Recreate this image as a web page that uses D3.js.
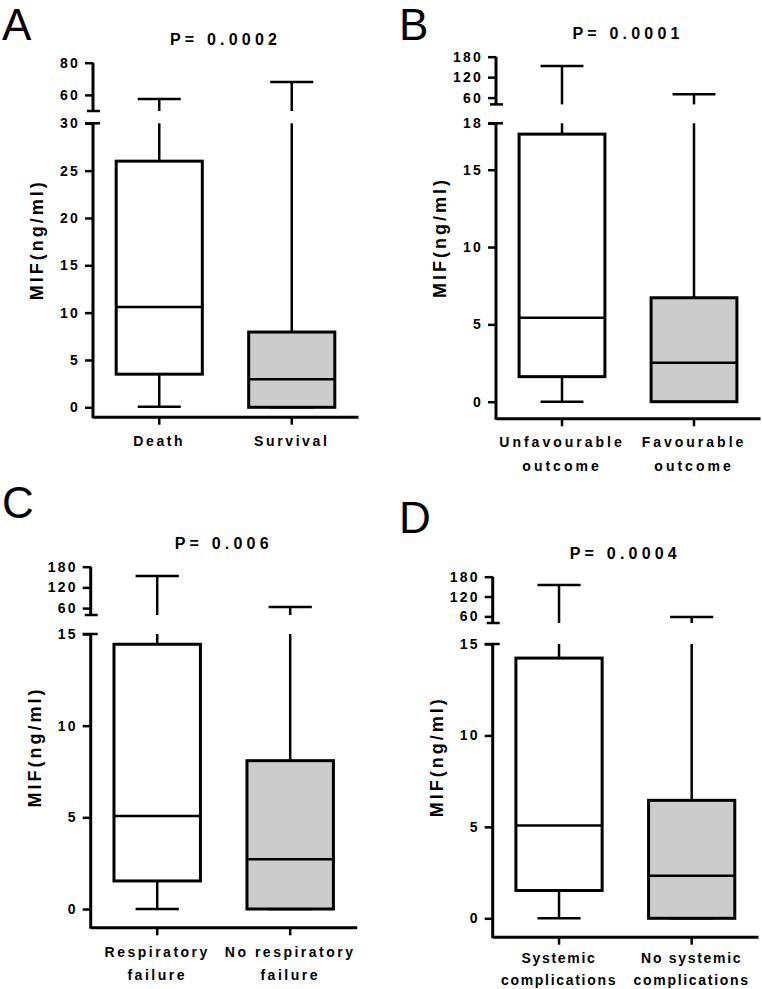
<!DOCTYPE html>
<html>
<head>
<meta charset="utf-8">
<script src="https://cdn.jsdelivr.net/npm/d3@7.9.0/dist/d3.min.js"></script>
<style>
  body { margin: 0; background: #fff; }
  svg { display: block; font-family: 'Liberation Sans', Arial, sans-serif; }
</style>
</head>
<body>
<svg id="chart"></svg>
<script>
////////////////////////////////////////////////////////////////////
// 1. Data
////////////////////////////////////////////////////////////////////
const panelLetters = ['A', 'B', 'C', 'D'];
const pLabels = ['P= 0.0002', 'P= 0.0001', 'P= 0.006', 'P= 0.0004'];
const yLabel = 'MIF(ng/ml)';

const groupsA = [['Death'], ['Survival']];
const groupsB = [['Unfavourable', 'outcome'], ['Favourable', 'outcome']];
const groupsC = [['Respiratory', 'failure'], ['No respiratory', 'failure']];
const groupsD = [['Systemic', 'complications'], ['No systemic', 'complications']];

// [min, q1, median, q3, max] for each group
const statsA = [[0.05, 3.5, 10.6, 26.0, 57.5], [0, 0, 2.95, 7.95, 68]];
const statsB = [[0, 1.62, 5.43, 17.3, 153], [0, 0, 2.52, 6.72, 70]];
const statsC = [[0, 1.53, 5.07, 14.44, 153], [0, 0, 2.71, 8.09, 63]];
const statsD = [[0, 1.52, 5.07, 14.23, 155], [0, 0, 2.32, 6.45, 58]];

// broken y axis: lower and upper segments
const lowerDomains = [[0, 30], [0, 18], [0, 15], [0, 15]];
const upperDomains = [[50, 80], [40, 180], [40, 180], [40, 180]];
const lowerTicksA = [0, 5, 10, 15, 20, 25, 30];
const lowerTicksB = [0, 5, 10, 15, 18];
const lowerTicksCD = [0, 5, 10, 15];
const upperTicksA = [60, 80];
const upperTicksBCD = [60, 120, 180];

const fills = ['#ffffff', '#cccccc'];

////////////////////////////////////////////////////////////////////
// 2. Layout
////////////////////////////////////////////////////////////////////
const width = 762;
const height = 989;

// pixel frame of each panel
const frames = [
  { left: 93, right: 358, upperTop: 62.7, upperBottom: 111, lowerTop: 123.3, zero: 407.3, base: 416.7, letterX: 2, letterY: 40, lab1: 29, lab2: 24, labSp: 2.6 },
  { left: 496, right: 760, upperTop: 56.7, upperBottom: 104.4, lowerTop: 123.3, zero: 401.7, base: 418.3, letterX: 399, letterY: 40, lab1: 28.4, lab2: 24, labSp: 3 },
  { left: 90.7, right: 356.7, upperTop: 566.7, upperBottom: 615, lowerTop: 634, zero: 909, base: 927.3, letterX: 2, letterY: 517.5, lab1: 29.4, lab2: 23.3, labSp: 2.5 },
  { left: 492.7, right: 758, upperTop: 576.7, upperBottom: 623, lowerTop: 644, zero: 918.3, base: 936.7, letterX: 399, letterY: 532.5, lab1: 26.6, lab2: 21.7, labSp: 1.7 },
];

const panels = [
  { groups: groupsA, stats: statsA, lowerTicks: lowerTicksA, upperTicks: upperTicksA },
  { groups: groupsB, stats: statsB, lowerTicks: lowerTicksB, upperTicks: upperTicksBCD },
  { groups: groupsC, stats: statsC, lowerTicks: lowerTicksCD, upperTicks: upperTicksBCD },
  { groups: groupsD, stats: statsD, lowerTicks: lowerTicksCD, upperTicks: upperTicksBCD },
];

const svg = d3
  .select('#chart')
  .attr('width', width)
  .attr('height', height)
  .attr('viewBox', [0, 0, width, height]);

////////////////////////////////////////////////////////////////////
// 3. Draw one panel
////////////////////////////////////////////////////////////////////
function drawPanel(i) {
  const f = frames[i];
  const p = panels[i];
  const g = svg.append('g');

  const yLow = d3.scaleLinear().domain(lowerDomains[i]).range([f.zero, f.lowerTop]);
  const yUp = d3.scaleLinear().domain(upperDomains[i]).range([f.upperBottom, f.upperTop]);
  const x = d3.scaleBand().domain(d3.range(p.groups.length)).range([f.left, f.right]);
  const bw = x.bandwidth();
  const cx = (k) => x(k) + bw / 2;

  // panel letter and p value
  g.append('text')
    .attr('x', f.letterX)
    .attr('y', f.letterY)
    .attr('font-size', 44)
    .text(panelLetters[i]);

  g.append('text')
    .attr('x', (f.left + f.right) / 2)
    .attr('y', f.upperTop - 17.5)
    .attr('text-anchor', 'middle')
    .attr('font-size', 16)
    .attr('font-weight', 'bold')
    .attr('letter-spacing', 4.2)
    .text(pLabels[i]);

  // y axis, lower and upper parts
  const styleAxis = (ax) => {
    ax.attr('font-family', null);
    ax.select('.domain').remove();
    ax.selectAll('.tick line').attr('stroke', '#000').attr('stroke-width', 2.5);
    ax.selectAll('.tick text')
      .attr('fill', '#000')
      .attr('font-size', 14)
      .attr('font-weight', 'bold')
      .attr('letter-spacing', 2.2);
  };

  g.append('g')
    .attr('transform', `translate(${f.left},0)`)
    .call(d3.axisLeft(yLow).tickValues(p.lowerTicks).tickSize(8).tickPadding(5))
    .call(styleAxis);

  g.append('g')
    .attr('transform', `translate(${f.left},0)`)
    .call(d3.axisLeft(yUp).tickValues(p.upperTicks).tickSize(8).tickPadding(5))
    .call(styleAxis);

  // axis lines and break marks
  g.append('line')
    .attr('x1', f.left).attr('x2', f.left)
    .attr('y1', f.lowerTop).attr('y2', f.base + 1.5)
    .attr('stroke', '#000').attr('stroke-width', 3);
  g.append('line')
    .attr('x1', f.left).attr('x2', f.left)
    .attr('y1', yUp(upperDomains[i][1])).attr('y2', f.upperBottom)
    .attr('stroke', '#000').attr('stroke-width', 3);
  g.append('line')
    .attr('x1', f.left - 8).attr('x2', f.left + 7)
    .attr('y1', f.lowerTop).attr('y2', f.lowerTop)
    .attr('stroke', '#000').attr('stroke-width', 2.5);
  g.append('line')
    .attr('x1', f.left - 6).attr('x2', f.left + 7)
    .attr('y1', f.upperBottom).attr('y2', f.upperBottom)
    .attr('stroke', '#000').attr('stroke-width', 2.5);

  // y axis title
  g.append('text')
    .attr('transform', `translate(${f.left - 50},${(f.upperTop + f.base) / 2}) rotate(-90)`)
    .attr('text-anchor', 'middle')
    .attr('font-size', 18)
    .attr('font-weight', 'bold')
    .attr('letter-spacing', 3)
    .text(yLabel);

  // x axis
  const xAxis = g.append('g')
    .attr('transform', `translate(0,${f.base})`)
    .call(d3.axisBottom(x).tickSize(8).tickSizeOuter(0).tickFormat(''));
  xAxis.select('.domain').attr('stroke', '#000').attr('stroke-width', 3);
  xAxis.selectAll('.tick line').attr('stroke', '#000').attr('stroke-width', 2.5);

  p.groups.forEach((lines, k) => {
    const t = g.append('text')
      .attr('text-anchor', 'middle')
      .attr('font-size', 14)
      .attr('font-weight', 'bold')
      .attr('letter-spacing', f.labSp);
    lines.forEach((s, j) => {
      t.append('tspan')
        .attr('x', cx(k))
        .attr('y', f.base + f.lab1 + j * f.lab2)
        .text(s);
    });
  });

  // boxes and whiskers
  const boxW = bw * 0.65;
  const capW = bw * 0.325;
  const breakAt = lowerDomains[i][1];

  p.stats.forEach(([mn, q1, med, q3, mx], k) => {
    const c = cx(k);
    const line = (x1, y1, x2, y2, w) =>
      g.append('line')
        .attr('x1', x1).attr('y1', y1).attr('x2', x2).attr('y2', y2)
        .attr('stroke', '#000').attr('stroke-width', w);

    // upper whisker, split across the break if needed
    if (mx > breakAt) {
      line(c, yLow(q3), c, f.lowerTop, 2.5);
      line(c, f.upperBottom, c, yUp(mx), 2.5);
      line(c - capW / 2, yUp(mx), c + capW / 2, yUp(mx), 2.5);
    } else {
      line(c, yLow(q3), c, yLow(mx), 2.5);
      line(c - capW / 2, yLow(mx), c + capW / 2, yLow(mx), 2.5);
    }
    // lower whisker
    line(c, yLow(q1), c, yLow(mn), 2.5);
    line(c - capW / 2, yLow(mn), c + capW / 2, yLow(mn), 2.5);

    g.append('rect')
      .attr('x', c - boxW / 2)
      .attr('y', yLow(q3))
      .attr('width', boxW)
      .attr('height', yLow(q1) - yLow(q3))
      .attr('fill', fills[k])
      .attr('stroke', '#000')
      .attr('stroke-width', 3);

    line(c - boxW / 2, yLow(med), c + boxW / 2, yLow(med), 2.5);
  });
}

panels.forEach((_, i) => drawPanel(i));
</script>
</body>
</html>
